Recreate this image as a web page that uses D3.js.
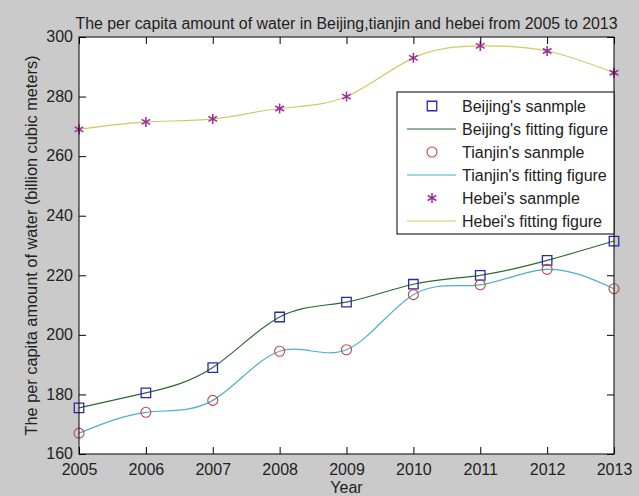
<!DOCTYPE html>
<html>
<head>
<meta charset="utf-8">
<script src="https://cdn.jsdelivr.net/npm/d3@7"></script>
<style>
  body { margin: 0; background: #cacaca; }
  svg { display: block; font-family: "Liberation Sans", Arial, sans-serif; }
</style>
</head>
<body>
<svg class="chart" width="639" height="496"></svg>
<script>
// data
let years = [2005, 2006, 2007, 2008, 2009, 2010, 2011, 2012, 2013];
let beijing = [175.5, 180.5, 189, 206, 211, 217, 220, 225, 231.5];
let tianjin = [167, 174, 178, 194.5, 195, 213.5, 216.8, 222, 215.5];
let hebei = [269, 271.5, 272.5, 276, 280, 293, 297, 295.3, 288];
let yTicks = [160, 180, 200, 220, 240, 260, 280, 300];
let legendLabels = ["Beijing's sanmple", "Beijing's fitting figure", "Tianjin's sanmple",
                    "Tianjin's fitting figure", "Hebei's sanmple", "Hebei's fitting figure"];

let svg = d3.select(".chart");
let margin = {top: 37, right: 25, bottom: 42, left: 79};
let width = 639 - margin.left - margin.right,
    height = 496 - margin.top - margin.bottom;

let x = d3.scaleLinear().domain([2005, 2013]).range([0, width]);
let y = d3.scaleLinear().domain([160, 300]).range([height, 0]);

let g = svg.append("g")
  .attr("transform", "translate(" + margin.left + "," + margin.top + ")");

// fond du graphique
g.append("rect").attr("width", width).attr("height", height).attr("fill", "#fff");

// courbes lissées (spline par les points)
let line = d3.line()
  .x(function(d, i) { return x(years[i]); })
  .y(function(d) { return y(d); })
  .curve(d3.curveNatural);

g.append("path").datum(hebei).attr("d", line)
  .attr("fill", "none").attr("stroke", "#d2c960").attr("stroke-width", 1.2);
g.append("path").datum(tianjin).attr("d", line)
  .attr("fill", "none").attr("stroke", "#47b0cf").attr("stroke-width", 1.2);
g.append("path").datum(beijing).attr("d", line)
  .attr("fill", "none").attr("stroke", "#2d6a2d").attr("stroke-width", 1.2);

// marqueurs
let square = d3.symbol().type(d3.symbolSquare).size(90);
let star = d3.symbol().type(d3.symbolAsterisk).size(70);

g.selectAll(".bj").data(beijing).enter().append("path")
  .attr("class", "bj")
  .attr("d", square)
  .attr("transform", function(d, i) { return "translate(" + x(years[i]) + "," + y(d) + ")"; })
  .attr("fill", "none").attr("stroke", "#2a2aa8").attr("stroke-width", 1.3);

g.selectAll(".tj").data(tianjin).enter().append("circle")
  .attr("class", "tj")
  .attr("cx", function(d, i) { return x(years[i]); })
  .attr("cy", function(d) { return y(d); })
  .attr("r", 5)
  .attr("fill", "none").attr("stroke", "#c04545").attr("stroke-width", 1.1);

g.selectAll(".hb").data(hebei).enter().append("path")
  .attr("class", "hb")
  .attr("d", star)
  .attr("transform", function(d, i) { return "translate(" + x(years[i]) + "," + y(d) + ")"; })
  .attr("fill", "none").attr("stroke", "#a02c9a").attr("stroke-width", 1.5);

// axes, graduations vers l'intérieur
let xAxis = g.append("g").attr("class", "axis")
  .attr("transform", "translate(0," + height + ")")
  .call(d3.axisBottom(x).tickValues(years).tickFormat(d3.format("d")).tickSizeInner(-7).tickSizeOuter(0).tickPadding(8));
let yAxis = g.append("g").attr("class", "axis")
  .call(d3.axisLeft(y).tickValues(yTicks).tickSizeInner(-7).tickSizeOuter(0).tickPadding(6));
g.append("g").attr("class", "axis")
  .call(d3.axisTop(x).tickValues(years).tickFormat("").tickSizeInner(-7).tickSizeOuter(0));
g.append("g").attr("class", "axis")
  .attr("transform", "translate(" + width + ",0)")
  .call(d3.axisRight(y).tickValues(yTicks).tickFormat("").tickSizeInner(-7).tickSizeOuter(0));

svg.selectAll(".axis path").remove();
svg.selectAll(".axis line").attr("stroke", "#000");
svg.selectAll(".axis text").attr("fill", "#222").style("font-size", "16px")
  .style("font-family", "'Liberation Sans', Arial, sans-serif");
xAxis.selectAll("text").attr("dy", "0.8em");
yAxis.selectAll("text").attr("dy", "0.3em");

// cadre
g.append("rect").attr("width", width).attr("height", height)
  .attr("fill", "none").attr("stroke", "#000").attr("stroke-width", 1);

// titres
svg.append("text")
  .attr("x", margin.left + width / 2).attr("y", 29)
  .attr("text-anchor", "middle")
  .attr("textLength", 542).attr("lengthAdjust", "spacingAndGlyphs")
  .style("font-size", "16px").attr("fill", "#222")
  .text("The per capita amount of water in Beijing,tianjin and hebei from 2005 to 2013");

svg.append("text")
  .attr("x", margin.left + width / 2).attr("y", 493)
  .attr("text-anchor", "middle")
  .style("font-size", "16px").attr("fill", "#222")
  .text("Year");

svg.append("text")
  .attr("transform", "translate(37," + (margin.top + height / 2) + ") rotate(-90)")
  .attr("text-anchor", "middle")
  .attr("textLength", 380).attr("lengthAdjust", "spacingAndGlyphs")
  .style("font-size", "16px").attr("fill", "#222")
  .text("The per capita amount of water (billion cubic meters)");

// légende
let leg = svg.append("g").attr("transform", "translate(397,92)");
leg.append("rect").attr("width", 217).attr("height", 142)
  .attr("fill", "#fff").attr("stroke", "#000").attr("stroke-width", 1);

let rows = leg.selectAll(".row").data(legendLabels).enter().append("g")
  .attr("class", "row")
  .attr("transform", function(d, i) { return "translate(0," + (14 + i * 23) + ")"; });

rows.append("text")
  .attr("x", 65).attr("dy", "0.35em")
  .style("font-size", "16px").attr("fill", "#222")
  .text(function(d) { return d; });

leg.select(".row:nth-child(2)").append("path").attr("d", square)
  .attr("transform", "translate(35,0)")
  .attr("fill", "none").attr("stroke", "#2a2aa8").attr("stroke-width", 1.3);
leg.select(".row:nth-child(3)").append("line").attr("x1", 10).attr("x2", 59)
  .attr("stroke", "#2d6a2d").attr("stroke-width", 1.2);
leg.select(".row:nth-child(4)").append("circle").attr("cx", 35).attr("r", 5)
  .attr("fill", "none").attr("stroke", "#c04545").attr("stroke-width", 1.1);
leg.select(".row:nth-child(5)").append("line").attr("x1", 10).attr("x2", 59)
  .attr("stroke", "#47b0cf").attr("stroke-width", 1.2);
leg.select(".row:nth-child(6)").append("path").attr("d", star)
  .attr("transform", "translate(35,0)")
  .attr("fill", "none").attr("stroke", "#a02c9a").attr("stroke-width", 1.5);
leg.select(".row:nth-child(7)").append("line").attr("x1", 10).attr("x2", 59)
  .attr("stroke", "#d2c960").attr("stroke-width", 1.2);
</script>
</body>
</html>
